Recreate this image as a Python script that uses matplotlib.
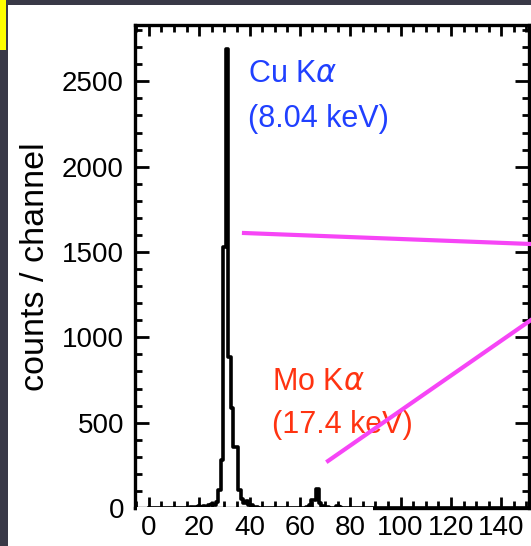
import numpy as np
import matplotlib
matplotlib.use('agg')
from matplotlib import pyplot as plt
from matplotlib.patches import Rectangle
from matplotlib.ticker import MultipleLocator

# Spectrum: channel -> counts (channels not listed are 0)
peak_channels = [17, 19, 20, 21, 22, 23, 24, 25, 26, 27, 28, 29, 30, 31, 32, 33, 34, 35,
                 36, 37, 38, 39, 40, 41, 42, 43,
                 63, 64, 65, 66, 67, 68, 69, 71, 75, 76]
peak_counts = [3, 5, 10, 5, 12, 8, 18, 22, 15, 35, 105, 280, 1530, 2690, 887, 586, 360, 360,
               105, 55, 30, 40, 15, 20, 5, 8,
               8, 15, 45, 45, 110, 30, 10, 8, 10, 5]
n_channels = 152

cu_label = ['Cu K$\\alpha$', '(8.04 keV)']
mo_label = ['Mo K$\\alpha$', '(17.4 keV)']

channels = np.arange(n_channels)
counts = np.zeros(n_channels)
counts[peak_channels] = peak_counts

plt.rcParams['font.family'] = ['Liberation Sans', 'DejaVu Sans']

W, H = 531, 546
fig = plt.figure(figsize=(W / 100, H / 100), dpi=100)
fig.patch.set_facecolor('#393947')
# white slide panel and yellow strip
fig.patches.append(Rectangle((8 / W, 0), 1, (H - 5) / H, transform=fig.transFigure,
                             facecolor='white', edgecolor='none', zorder=-10))
fig.patches.append(Rectangle((0, (H - 50) / H), 6 / W, 50 / H, transform=fig.transFigure,
                             facecolor='#ffff00', edgecolor='none', zorder=-10))

ax = fig.add_axes([135 / W, (H - 508) / H, (529 - 135) / W, (508 - 25) / H])
ax.set_facecolor('none')
ax.step(channels, counts, where='mid', color='black', lw=2.6)

ax.set_xlim(-5.5, 151)
ax.set_ylim(0, 2830)
ax.xaxis.set_major_locator(MultipleLocator(20))
ax.xaxis.set_minor_locator(MultipleLocator(5))
ax.yaxis.set_major_locator(MultipleLocator(500))
ax.yaxis.set_minor_locator(MultipleLocator(100))
ax.tick_params(which='both', direction='in', top=True, right=True, width=2, colors='black')
ax.tick_params(which='major', axis='y', length=10)
ax.tick_params(which='major', axis='x', length=8)
ax.tick_params(which='minor', length=5)
ax.tick_params(axis='x', labelsize=20, pad=5)
ax.tick_params(axis='y', labelsize=20, pad=8)
for s in ax.spines.values():
    s.set_linewidth(2.4)
ax.set_ylabel('counts / channel', fontsize=24.5, labelpad=8)

# text box on the slide hides part of the bottom axis line
fig.patches.append(Rectangle((137 / W, (H - 513) / H), (373 - 137) / W, 6.5 / H,
                             transform=fig.transFigure, facecolor='white',
                             edgecolor='none', zorder=5))

ax.text(248 / W, (H - 82) / H, cu_label[0], transform=fig.transFigure, color='#2040ff',
        fontsize=22, va='baseline')
ax.text(248 / W, (H - 127) / H, cu_label[1], transform=fig.transFigure, color='#2040ff',
        fontsize=22, va='baseline')
ax.text(272 / W, (H - 390) / H, mo_label[0], transform=fig.transFigure, color='#ff3311',
        fontsize=22, va='baseline')
ax.text(272 / W, (H - 433) / H, mo_label[1], transform=fig.transFigure, color='#ff3311',
        fontsize=22, va='baseline')

# pointer lines (slide annotations)
fig.add_artist(plt.Line2D([244 / W, 1.0], [(H - 233) / H, (H - 244) / H], color='#f645f6', lw=3))
fig.add_artist(plt.Line2D([328 / W, 1.0], [(H - 461) / H, (H - 320) / H], color='#f645f6', lw=3))

fig.savefig('out.png', dpi=100, facecolor=fig.get_facecolor())
